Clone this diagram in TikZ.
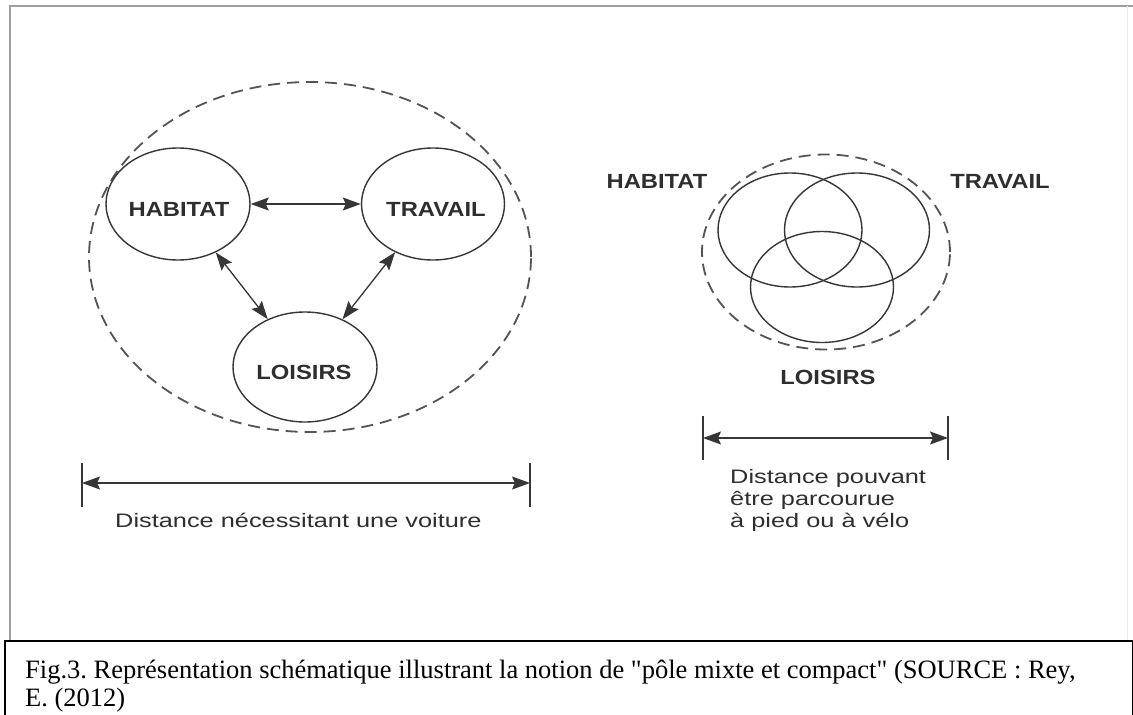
\documentclass[tikz,border=0pt]{standalone}
\usepackage{fontspec}
\setmainfont{Liberation Serif}
\newfontfamily\capfont{Liberation Serif}
\newfontfamily\labfont[FakeStretch=1.16]{Liberation Sans}
\newfontfamily\txtfont[FakeStretch=1.3]{Liberation Sans}
\usetikzlibrary{arrows.meta,shapes.geometric}
\definecolor{ink}{HTML}{2E2E2E}
\definecolor{lineink}{HTML}{363636}
\tikzset{
  ell/.style={ellipse, draw=lineink, line width=1.4pt, inner sep=0pt},
  dashell/.style={ellipse, draw=lineink!85, line width=1.8pt, dash pattern=on 12pt off 7pt, inner sep=0pt},
  lab/.style={inner sep=0pt, text=ink, font=\labfont\bfseries\fontsize{20.5}{24}\selectfont},
  dist/.style={inner sep=0pt, text=ink, font=\txtfont\fontsize{19.5}{22}\selectfont},
  tip/.tip={Stealth[length=18pt,width=13pt,inset=3pt]},
  arr/.style={draw=lineink, line width=1.3pt, tip-tip},
  tick/.style={draw=lineink, line width=1.3pt},
  capt/.style={inner sep=0pt, anchor=base west, font=\capfont\frenchspacing\fontsize{26.5}{30}\selectfont}
}
\begin{document}
\begin{tikzpicture}[x=1pt,y=-1pt]
\useasboundingbox[fill=white] (0,0) rectangle (1133,715);
% frame
\draw[gray!75, line width=2pt] (10,641) -- (10,6) -- (1133,6);
\draw[gray!15, line width=1pt] (1127,6) -- (1127,641);
% caption box
\draw[black, line width=1.6pt] (5,716) -- (5,641) -- (1133,641);
\draw[black, line width=1pt] (1132,641) -- (1132,716);
\node[capt] (cap1) at (25,678) {Fig.3. Représentation schématique illustrant la notion de "pôle mixte et compact" (SOURCE : Rey,};
\node[capt] (cap2) at (25,706) {E. (2012)};

% ===== left diagram =====
\node[dashell, minimum width=442pt, minimum height=350pt] (zoneA) at (310,257) {};
\node[ell, minimum width=144pt, minimum height=112pt] (hab) at (178,204) {};
\node[ell, minimum width=143pt, minimum height=112pt] (tra) at (433,204) {};
\node[ell, minimum width=144pt, minimum height=110pt] (loi) at (305,367) {};
\node[lab] (habt) at (179,209) {HABITAT};
\node[lab] (trat) at (436,209) {TRAVAIL};
\node[lab] (loit) at (304,372) {LOISIRS};
\draw[arr] (hab) -- (tra);
\draw[arr] (hab) -- (loi);
\draw[arr] (tra) -- (loi);

% distance bar left
\coordinate (aL) at (82,483);
\coordinate (aR) at (530,483);
\draw[tick] (82,463) -- (82,507);
\draw[tick] (530,463) -- (530,507);
\draw[arr] (aL) -- (aR);
\node[dist, anchor=base west] (distA) at (115,527) {Distance nécessitant une voiture};

% ===== right diagram =====
\node[dashell, minimum width=248pt, minimum height=195pt] (zoneB) at (826,252) {};
\node[ell, minimum width=144pt, minimum height=114pt] (habB) at (790,230) {};
\node[ell, minimum width=145pt, minimum height=114pt] (traB) at (857,230) {};
\node[ell, minimum width=143pt, minimum height=111pt] (loiB) at (822,287) {};
\node[lab] (habBt) at (657,181) {HABITAT};
\node[lab] (traBt) at (1000,181) {TRAVAIL};
\node[lab] (loiBt) at (828,377) {LOISIRS};

% distance bar right
\coordinate (bL) at (703,438);
\coordinate (bR) at (948,438);
\draw[tick] (703,416) -- (703,460);
\draw[tick] (948,416) -- (948,460);
\draw[arr] (bL) -- (bR);
\node[dist, anchor=base west] (distB1) at (730,483) {Distance pouvant};
\node[dist, anchor=base west] (distB2) at (730,505) {être parcourue};
\node[dist, anchor=base west] (distB3) at (730,527) {à pied ou à vélo};
\end{tikzpicture}
\end{document}
